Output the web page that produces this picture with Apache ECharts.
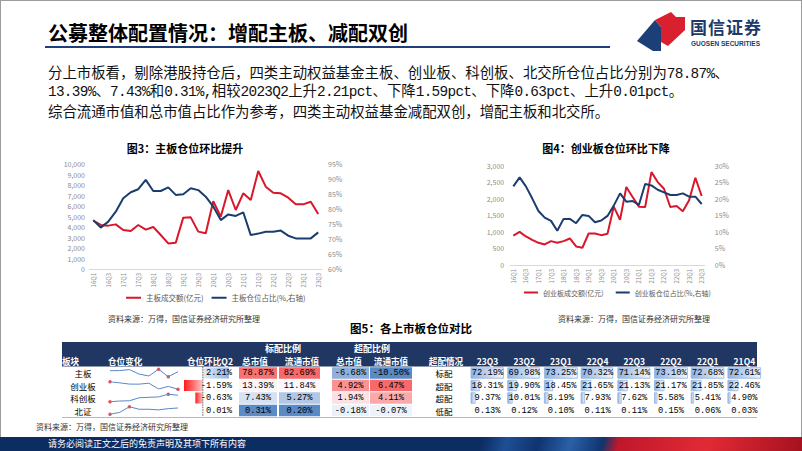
<!DOCTYPE html>
<html><head><meta charset="utf-8">
<script src="https://cdn.jsdelivr.net/npm/echarts@6/dist/echarts.min.js"></script>
<style>
html,body{margin:0;padding:0;width:802px;height:451px;overflow:hidden;background:#fff;font-family:"Noto Sans CJK SC",sans-serif;}
.abs{position:absolute;white-space:nowrap;}
#frame{left:0;top:0;width:802px;height:451px;box-sizing:border-box;border:1px solid #9c9c9c;}
#title{left:48px;top:21px;font-size:20px;font-weight:bold;line-height:24px;color:#000;}
#uline{left:45px;top:46px;width:565px;height:2px;background:#1f3f7b;}
.para{left:48px;font-size:14.4px;line-height:18px;color:#111;font-family:"Liberation Mono","Noto Sans CJK SC",monospace;}
.lat{letter-spacing:-0.7px;}
#footer{left:0;top:437px;width:802px;height:14px;background:linear-gradient(105deg,#0c2d62 0%,#0c2d62 60%,#1d4f95 63%,#0f3470 67%,#2a60a8 71%,#10356f 75%,#c0172c 77%,#e22a35 88%,#a5111f 100%);}
#ftext{left:48px;top:437px;line-height:14px;font-size:9px;color:#fff;}
#logoTxt{left:690px;top:17px;font-size:17px;line-height:20px;color:#1d3a6a;font-weight:bold;letter-spacing:1px;}
#logoSub{left:691px;top:40px;font-size:6.5px;line-height:8px;color:#1d3a6a;font-weight:bold;font-family:"Liberation Sans",sans-serif;}
#chart{position:absolute;left:0;top:0;width:802px;height:451px;}
</style></head>
<body>
<div id="frame" class="abs"></div>
<div id="title" class="abs">公募整体配置情况：增配主板、减配双创</div>
<div id="uline" class="abs"></div>
<svg class="abs" style="left:630px;top:8px" width="60" height="48" viewBox="630 8 60 48">
  <polygon points="637,41 655,20 661,27 661,51 653,51" fill="#1d3f78"/>
  <polygon points="655,20 671,12 676,17 685,17 685,30 668,46 661,42 661,27" fill="#d9202e"/>
</svg>
<div id="logoTxt" class="abs">国信证券</div>
<div id="logoSub" class="abs">GUOSEN SECURITIES</div>
<div class="abs para" style="top:65px">分上市板看，剔除港股持仓后，四类主动权益基金主板、创业板、科创板、北交所仓位占比分别为<span class="lat">78.87%</span>、</div>
<div class="abs para" style="top:83px"><span class="lat">13.39%</span>、<span class="lat">7.43%</span>和<span class="lat">0.31%,</span>相较<span class="lat">2023Q2</span>上升<span class="lat">2.21pct</span>、下降<span class="lat">1.59pct</span>、下降<span class="lat">0.63pct</span>、上升<span class="lat">0.01pct</span>。</div>
<div class="abs para" style="top:104px">综合流通市值和总市值占比作为参考，四类主动权益基金减配双创，增配主板和北交所。</div>
<div id="footer" class="abs"></div>
<div id="ftext" class="abs">请务必阅读正文之后的免责声明及其项下所有内容</div>
<div id="chart"></div>
<script>
// ---------- data ----------
const quarters = ['16Q1','16Q2','16Q3','16Q4','17Q1','17Q2','17Q3','17Q4','18Q1','18Q2','18Q3','18Q4','19Q1','19Q2','19Q3','19Q4','20Q1','20Q2','20Q3','20Q4','21Q1','21Q2','21Q3','21Q4','22Q1','22Q2','22Q3','22Q4','23Q1','23Q2','23Q3'];
const mainTurnover = [4600,4200,4130,4250,3710,3620,4190,3750,4000,3240,2440,2500,4890,4920,3560,3400,6450,4980,7520,5620,7210,6570,9330,7840,7270,7210,6790,6160,6160,6410,5240];
const mainShare = [76.3,73.8,75.8,79.1,83.6,85.6,86.6,89.7,86.0,86.0,87.2,84.7,84.9,86.9,86.3,84.1,80.8,76.3,78.2,77.7,78.9,71.3,71.8,72.4,72.4,72.8,71.1,70.2,70.2,70.2,72.2];
const gemTurnover = [886,1000,860,760,670,620,720,670,720,800,560,520,950,950,900,940,1760,1360,2350,2050,1760,1750,2800,2500,2300,1750,1780,1620,1950,2630,2080];
const gemShare = [23.7,26.4,23.7,20.1,16.3,14.3,13.3,10.3,13.9,13.9,12.6,15.1,14.8,12.9,13.4,14.8,17.9,21.6,19.1,19.3,18.1,24.4,24.0,22.7,21.9,21.1,21.1,21.6,20.6,20.6,18.4];

const rowNames = ['主板','创业板','科创板','北证'];
const q2Change = [2.21,-1.59,-0.63,0.01];
const stdTotal = [78.87,13.39,7.43,0.31];
const stdFloat = [82.69,11.84,5.27,0.20];
const overTotal = [-6.68,4.92,1.94,-0.18];
const overFloat = [-10.50,6.47,4.11,-0.07];
const overStatus = ['标配','超配','超配','低配'];
const quarterCols = ['23Q3','23Q2','23Q1','22Q4','22Q3','22Q2','22Q1','21Q4'];
const shareMain = [72.19,69.98,73.25,70.32,71.14,73.10,72.68,72.61];
const shareGem = [18.31,19.90,18.45,21.65,21.13,21.17,21.85,22.46];
const shareStar = [9.37,10.01,8.19,7.93,7.62,5.58,5.41,4.90];
const shareBse = [0.13,0.12,0.10,0.11,0.11,0.15,0.06,0.03];

// ---------- layout ----------
const L = {labelX:83, q2L:184, q2R:229, q2Text:232,
  heatEdges:[[239,277],[279,320],[332,369],[370,412]],
  statusX:444, tStart:471, tStep:36.7, tMaxW:33,
  sparkL:110, sparkW:68, tblTop:366.75, rowH:12.5, tblLeft:62, tblRight:757};
const CJK = '"Noto Sans CJK SC", sans-serif';
const NUMFONT = '8.7px "Liberation Mono", "Noto Sans CJK SC", monospace';
const RED = '#d9172a', NAVY = '#1b3d6d';

function hex2rgb(h){return [parseInt(h.slice(1,3),16),parseInt(h.slice(3,5),16),parseInt(h.slice(5,7),16)];}
function lerp(a,b,t){const A=hex2rgb(a),B=hex2rgb(b);return 'rgb('+A.map((x,i)=>Math.round(x+(B[i]-x)*t)).join(',')+')';}
function makeScale(vals){const s=vals.slice().sort((a,b)=>a-b);const n=s.length;const mid=n%2?s[(n-1)/2]:(s[n/2-1]+s[n/2])/2;return {min:s[0],max:s[n-1],mid:mid};}
function heatColor(v,sc){ if(v>=sc.mid) return lerp('#fcfcff','#f8696b',Math.min(1,(v-sc.mid)/(sc.max-sc.mid))); return lerp('#fcfcff','#5a8ac6',Math.min(1,(sc.mid-v)/(sc.mid-sc.min))); }
const stdScale = makeScale(stdTotal.concat(stdFloat));
const overScale = makeScale(overTotal.concat(overFloat));
const heatCols = [stdTotal,stdFloat,overTotal,overFloat];
const shareRows = [shareMain,shareGem,shareStar,shareBse];
const tMax = Math.max(...shareRows.flat());
const qMin = Math.min(...q2Change), qMax = Math.max(...q2Change);
const qScale = (L.q2R-L.q2L)/(qMax-qMin);
const qAxis = L.q2L - qMin*qScale;

function txt(text,x,y,font,fill,align,valign){
  return {type:'text',x:x,y:y,silent:true,style:{text:text,font:font,fill:fill||'#000',textAlign:align||'left',align:align||'left',textVerticalAlign:valign||'middle',verticalAlign:valign||'middle'}};
}

const chart = echarts.init(document.getElementById('chart'),null,{renderer:'svg'});
const lab = {color:'#8a8a8a',fontSize:7,fontFamily:CJK};
const thousands = v=>String(v).replace(/\B(?=(\d{3})+(?!\d))/g,',');
const noAxisDeco = {axisLine:{show:false},axisTick:{show:false},splitLine:{show:false}};

const grids = [
  {left:89.5,width:232.5,top:164,height:105},
  {left:510.2,width:194.6,top:165.5,height:99.5},
  {left:L.tblLeft,width:L.tblRight-L.tblLeft,top:L.tblTop,height:L.rowH*4}
];
const xAxes = [
  {gridIndex:0,type:'category',data:quarters,boundaryGap:true,axisTick:{show:false},axisLine:{lineStyle:{color:'#d9d9d9'}},axisLabel:Object.assign({},lab,{interval:1,rotate:90,margin:4,fontSize:6})},
  {gridIndex:1,type:'category',data:quarters,boundaryGap:true,axisTick:{show:false},axisLine:{lineStyle:{color:'#d9d9d9'}},axisLabel:Object.assign({},lab,{interval:1,rotate:90,margin:4,fontSize:6})},
  {gridIndex:2,type:'value',min:L.tblLeft,max:L.tblRight,show:false}
];
const yAxes = [
  Object.assign({gridIndex:0,type:'value',min:0,max:10000,interval:1000,axisLabel:Object.assign({},lab,{formatter:thousands,margin:4.5})},noAxisDeco),
  Object.assign({gridIndex:0,type:'value',position:'right',min:60,max:95,interval:5,axisLabel:Object.assign({},lab,{formatter:'{value}%',margin:6})},noAxisDeco),
  Object.assign({gridIndex:1,type:'value',min:0,max:3000,interval:500,axisLabel:Object.assign({},lab,{formatter:thousands,margin:6})},noAxisDeco),
  Object.assign({gridIndex:1,type:'value',position:'right',min:0,max:30,interval:5,axisLabel:Object.assign({},lab,{formatter:'{value}%',margin:10})},noAxisDeco),
  {gridIndex:2,type:'category',data:rowNames,inverse:true,show:false}
];
const series = [
  {name:'主板成交额(亿元)',type:'line',xAxisIndex:0,yAxisIndex:0,data:mainTurnover,symbol:'none',lineStyle:{color:RED,width:2},itemStyle:{color:RED}},
  {name:'主板仓位占比(%,右轴)',type:'line',xAxisIndex:0,yAxisIndex:1,data:mainShare,symbol:'none',lineStyle:{color:NAVY,width:2},itemStyle:{color:NAVY}},
  {name:'创业板成交额(亿元)',type:'line',xAxisIndex:1,yAxisIndex:2,data:gemTurnover,symbol:'none',lineStyle:{color:RED,width:2},itemStyle:{color:RED}},
  {name:'创业板仓位占比(%,右轴)',type:'line',xAxisIndex:1,yAxisIndex:3,data:gemShare,symbol:'none',lineStyle:{color:NAVY,width:2},itemStyle:{color:NAVY}}
];

const center = {textAlign:'center',align:'center',textVerticalAlign:'middle',verticalAlign:'middle'};
// row labels + status
series.push({type:'custom',xAxisIndex:2,yAxisIndex:4,silent:true,data:rowNames.map((n,i)=>[0,i]),encode:{x:0,y:1},
  renderItem:(p,api)=>{const r=api.value(1);const a=api.coord([L.labelX,r]);const b=api.coord([L.statusX,r]);
    return {type:'group',children:[
      {type:'text',x:a[0],y:a[1],style:Object.assign({text:rowNames[r],font:'8.5px '+CJK,fill:'#000'},center)},
      {type:'text',x:b[0],y:b[1],style:Object.assign({text:overStatus[r],font:'8.5px '+CJK,fill:'#000'},center)}]};}});
// Q2 change data bars
series.push({type:'custom',xAxisIndex:2,yAxisIndex:4,silent:true,data:q2Change.map((v,i)=>[0,i,v]),encode:{x:0,y:1},
  renderItem:(p,api)=>{const r=api.value(1),v=api.value(2);const h=api.size([0,1])[1];
    const a=api.coord([qAxis,r]),b=api.coord([qAxis+v*qScale,r]),t=api.coord([L.q2Text,r]);
    const x0=Math.min(a[0],b[0]),w=Math.abs(b[0]-a[0]);
    const fill=v<0?new echarts.graphic.LinearGradient(0,0,1,0,[{offset:0,color:'#ff1a1a'},{offset:1,color:'#ffc8c8'}])
                  :new echarts.graphic.LinearGradient(0,0,1,0,[{offset:0,color:'#e4ecf7'},{offset:1,color:'#8fb2e3'}]);
    return {type:'group',children:[
      {type:'rect',shape:{x:x0,y:a[1]-h/2+0.75,width:w,height:h-1.5},style:{fill:fill}},
      {type:'line',shape:{x1:a[0],y1:a[1]-h/2,x2:a[0],y2:a[1]+h/2},style:{stroke:'#444',lineWidth:0.8,lineDash:[1.5,1]}},
      {type:'text',x:t[0],y:t[1],style:{text:v.toFixed(2)+'%',font:NUMFONT,fill:'#000',textAlign:'right',align:'right',textVerticalAlign:'middle',verticalAlign:'middle'}}]};}});
// heat cells
const heatData=[];heatCols.forEach((col,g)=>col.forEach((v,r)=>heatData.push([g,r,v])));
series.push({type:'custom',xAxisIndex:2,yAxisIndex:4,silent:true,data:heatData,encode:{x:0,y:1},
  renderItem:(p,api)=>{const g=api.value(0),r=api.value(1),v=api.value(2);const h=api.size([0,1])[1];
    const e=L.heatEdges[g];const a=api.coord([e[0],r]),b=api.coord([e[1],r]);
    return {type:'group',children:[
      {type:'rect',shape:{x:a[0],y:a[1]-h/2+0.5,width:b[0]-a[0],height:h-1},style:{fill:heatColor(v,g<2?stdScale:overScale)}},
      {type:'text',x:(a[0]+b[0])/2,y:a[1],style:Object.assign({text:v.toFixed(2)+'%',font:NUMFONT,fill:'#000'},center)}]};}});
// quarter share data bars
const tData=[];shareRows.forEach((row,r)=>row.forEach((v,k)=>tData.push([k,r,v])));
series.push({type:'custom',xAxisIndex:2,yAxisIndex:4,silent:true,data:tData,encode:{x:0,y:1},
  renderItem:(p,api)=>{const k=api.value(0),r=api.value(1),v=api.value(2);const h=api.size([0,1])[1];
    const xs=L.tStart+k*L.tStep;const a=api.coord([xs,r]),b=api.coord([xs+v/tMax*L.tMaxW,r]),c=api.coord([xs+L.tMaxW/2,r]);
    const w=b[0]-a[0];
    const children=[];
    if(w>0.5) children.push({type:'rect',shape:{x:a[0],y:a[1]-h/2+1,width:w,height:h-2},
      style:{fill:new echarts.graphic.LinearGradient(0,0,1,0,[{offset:0,color:'#8fb1e0'},{offset:1,color:'#f3f7fc'}]),stroke:'#93b4e0',lineWidth:0.8}});
    children.push({type:'text',x:c[0],y:c[1],style:Object.assign({text:v.toFixed(2)+'%',font:NUMFONT,fill:'#000'},center)});
    return {type:'group',children:children};}});

// sparklines
const sparkX = quarterCols.slice().reverse();
shareRows.forEach((row,r)=>{
  const chrono=row.slice().reverse();
  grids.push({left:L.sparkL,width:L.sparkW,top:L.tblTop+r*L.rowH+2.5,height:L.rowH-5});
  xAxes.push({gridIndex:3+r,type:'category',data:sparkX,boundaryGap:false,show:false});
  yAxes.push({gridIndex:3+r,type:'value',min:'dataMin',max:'dataMax',show:false});
  series.push({type:'line',xAxisIndex:3+r,yAxisIndex:5+r,data:chrono,symbol:'none',silent:true,lineStyle:{color:'#5b87c6',width:1}});
  const mx=Math.max(...chrono),mn=Math.min(...chrono);
  series.push({type:'scatter',xAxisIndex:3+r,yAxisIndex:5+r,silent:true,symbolSize:3.5,itemStyle:{color:'#e3262f'},
    data:[[chrono.indexOf(mx),mx],[chrono.indexOf(mn),mn]]});
});
grids.forEach(g=>{g.containLabel=false;g.outerBoundsMode='none';});

// texts / header
const W='#fff', HB='bold 8.6px '+CJK, QB='bold 8.5px '+CJK;
const Y1=348, Y2=360.6;
const graphics = [
  txt('图3：主板仓位环比提升',185,148,'bold 11px '+CJK,'#000','center'),
  txt('图4：创业板仓位环比下降',606,148,'bold 11px '+CJK,'#000','center'),
  txt('资料来源：万得，国信证券经济研究所整理',108,318,'8px '+CJK,'#333','left'),
  txt('资料来源：万得，国信证券经济研究所整理',558,318,'8px '+CJK,'#333','left'),
  txt('图5：各上市板仓位对比',411,328,'bold 11.5px '+CJK,'#000','center'),
  {type:'rect',silent:true,shape:{x:L.tblLeft,y:342,width:L.tblRight-L.tblLeft,height:24.5},style:{fill:'#203764'}},
  txt('标配比例',283,Y1,'bold 9px '+CJK,W,'center'),
  txt('超配比例',372,Y1,'bold 9px '+CJK,W,'center'),
  txt('板块',62,Y2,HB,W,'left'),
  txt('仓位变化',108,Y2,HB,W,'left'),
  txt('仓位环比Q2',233,Y2,HB,W,'right'),
  txt('总市值',255,Y2,HB,W,'center'),
  txt('流通市值',302,Y2,HB,W,'center'),
  txt('总市值',349,Y2,HB,W,'center'),
  txt('流通市值',391,Y2,HB,W,'center'),
  txt('超配情况',446,Y2,HB,W,'center'),
  {type:'line',silent:true,shape:{x1:L.tblLeft,y1:417.5,x2:L.tblRight,y2:417.5},style:{stroke:'#a6a6a6',lineWidth:0.8}},
  txt('资料来源：万得，国信证券经济研究所整理',36,426,'8px '+CJK,'#333','left')
];
quarterCols.forEach((q,k)=>graphics.push(txt(q,L.tStart+k*L.tStep+L.tMaxW/2,Y2,QB,W,'center')));

chart.setOption({
  animation:false,
  textStyle:{fontFamily:CJK},
  grid:grids, xAxis:xAxes, yAxis:yAxes, series:series,
  legend:[
    {data:['主板成交额(亿元)','主板仓位占比(%,右轴)'],left:126,top:294,icon:'rect',itemWidth:15,itemHeight:2,itemGap:8,padding:0,textStyle:{fontSize:7.5,color:'#595959',fontFamily:CJK}},
    {data:['创业板成交额(亿元)','创业板仓位占比(%,右轴)'],left:524,top:289,icon:'rect',itemWidth:14,itemHeight:2,itemGap:12,padding:0,textStyle:{fontSize:7,color:'#595959',fontFamily:CJK}}
  ],
  graphic:graphics
});
</script>
</body></html>
